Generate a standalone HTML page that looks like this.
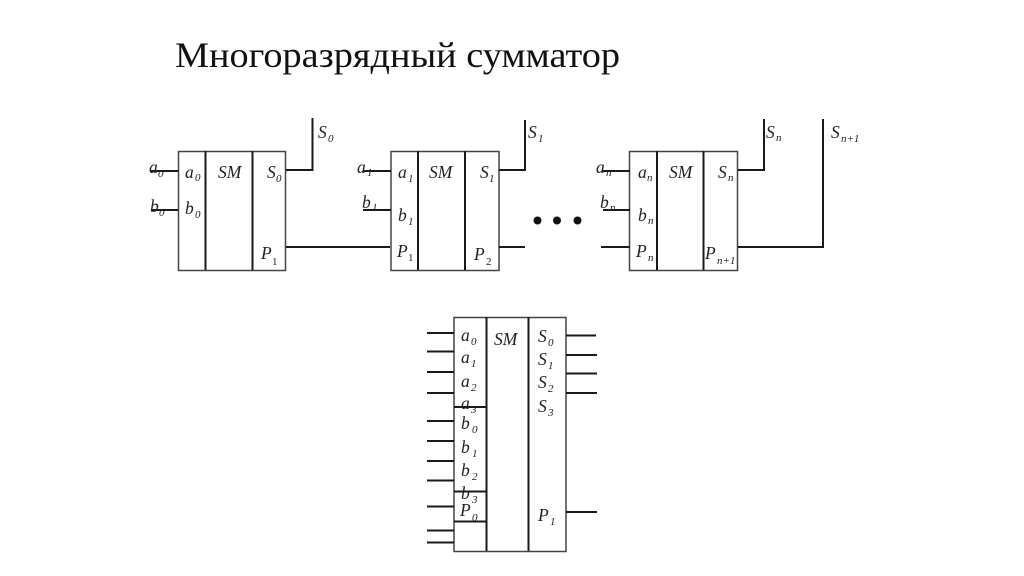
<!DOCTYPE html>
<html><head><meta charset="utf-8"><style>
html,body{margin:0;padding:0;background:#fff;width:1024px;height:576px;overflow:hidden}
svg{display:block}
text{font-family:"Liberation Serif",serif;fill:#222}
.l{font-size:17.5px;font-style:italic}
.s{font-size:11px;font-style:italic;transform:translateX(1px)}
.r{font-size:11px;transform:translateX(1px)}
.b{fill:none;stroke:#444;stroke-width:1.5}
.d{stroke:#1a1a1a;stroke-width:2;fill:none}
</style></head><body>
<svg width="1024" height="576" viewBox="0 0 1024 576" xmlns="http://www.w3.org/2000/svg">
<rect width="1024" height="576" fill="#fff"/>
<text x="175" y="67" font-size="36" style="fill:#111" textLength="445" lengthAdjust="spacingAndGlyphs">Многоразрядный сумматор</text>

<!-- block 1 -->
<rect class="b" x="178.500" y="151.500" width="107" height="119"/>
<path class="d" d="M205.500 151V270M252.500 151V270M151 171H178M151 210H178M286 170H312.500V118M286 247H390"/>
<!-- block 2 -->
<rect class="b" x="391" y="151.500" width="108" height="119"/>
<path class="d" d="M418 151V270M465 151V270M363 171H391M363 210H391M499 170H525V120M499 247H525"/>
<!-- block 3 -->
<rect class="b" x="629.500" y="151.500" width="108" height="119"/>
<path class="d" d="M657 151V270M703.500 151V270M603 171H630M603 210H630M601 247H630M738 170H764V119M738 247H823V119"/>
<circle cx="537.500" cy="220.500" r="4" fill="#111"/><circle cx="557" cy="220.500" r="4" fill="#111"/><circle cx="577.500" cy="220.500" r="4" fill="#111"/>

<!-- labels block 1 -->
<g transform="translate(0,1)">
<text class="l" x="149" y="172">a</text><text class="s" x="157" y="176">0</text>
<text class="l" x="150" y="211">b</text><text class="s" x="158" y="215">0</text>
<text class="l" x="185" y="177">a</text><text class="s" x="194" y="180">0</text>
<text class="l" x="185" y="213">b</text><text class="s" x="194" y="217">0</text>
<text class="l" x="218" y="177">SM</text>
<text class="l" x="267" y="177">S</text><text class="s" x="275" y="181">0</text>
<text class="l" x="261" y="258">P</text><text class="r" x="271" y="264">1</text>
<text class="l" x="318" y="137">S</text><text class="s" x="327" y="141">0</text>
</g>
<!-- labels block 2 -->
<g transform="translate(0,1)">
<text class="l" x="357" y="172">a</text><text class="s" x="366" y="175">1</text>
<text class="l" x="362" y="207">b</text><text class="s" x="371" y="210">1</text>
<text class="l" x="398" y="177">a</text><text class="s" x="407" y="181">1</text>
<text class="l" x="398" y="220">b</text><text class="s" x="407" y="224">1</text>
<text class="l" x="429" y="177">SM</text>
<text class="l" x="480" y="177">S</text><text class="s" x="488" y="181">1</text>
<text class="l" x="397" y="256">P</text><text class="r" x="407" y="260">1</text>
<text class="l" x="474" y="259">P</text><text class="r" x="485" y="264">2</text>
<text class="l" x="528" y="137">S</text><text class="s" x="537" y="141">1</text>
</g>
<!-- labels block 3 -->
<g transform="translate(0,1)">
<text class="l" x="596" y="172">a</text><text class="s" x="605" y="175">n</text>
<text class="l" x="600" y="207">b</text><text class="s" x="609" y="210">n</text>
<text class="l" x="638" y="177">a</text><text class="s" x="646" y="180">n</text>
<text class="l" x="638" y="220">b</text><text class="s" x="647" y="223">n</text>
<text class="l" x="669" y="177">SM</text>
<text class="l" x="718" y="177">S</text><text class="s" x="727" y="180">n</text>
<text class="l" x="636" y="256">P</text><text class="s" x="647" y="260">n</text>
<text class="l" x="705" y="258">P</text><text class="s" x="716" y="263">n+1</text>
<text class="l" x="766" y="137">S</text><text class="s" x="775" y="140">n</text>
<text class="l" x="831" y="137">S</text><text class="s" x="840" y="141">n+1</text>
</g>

<!-- bottom block -->
<rect class="b" x="454" y="317.500" width="112" height="234"/>
<path class="d" d="M486.500 317V551M528.500 317V551M454 407H486M454 491.500H486M454 521.500H486"/>
<path class="d" d="M427 333H454M427 351.500H454M427 372H454M427 393H454M427 421H454M427 441H454M427 461H454M427 480.500H454M427 506.500H454M427 530.500H454M427 542.500H454"/>
<path class="d" d="M566 335.500H596M566 355H597M566 373.500H597M566 393H597M566 512H597"/>
<g transform="translate(0,1)">
<text class="l" x="461" y="340">a</text><text class="s" x="470" y="344">0</text>
<text class="l" x="461" y="362">a</text><text class="s" x="470" y="366">1</text>
<text class="l" x="461" y="386">a</text><text class="s" x="470" y="390">2</text>
<text class="l" x="461" y="408">a</text><text class="s" x="470" y="412">3</text>
<text class="l" x="461" y="428">b</text><text class="s" x="471" y="432">0</text>
<text class="l" x="461" y="452">b</text><text class="s" x="471" y="456">1</text>
<text class="l" x="461" y="475">b</text><text class="s" x="471" y="479">2</text>
<text class="l" x="461" y="498">b</text><text class="s" x="471" y="502">3</text>
<text class="l" x="460" y="515">P</text><text class="s" x="471" y="520">0</text>
<text class="l" x="494" y="344">SM</text>
<text class="l" x="538" y="341">S</text><text class="s" x="547" y="345">0</text>
<text class="l" x="538" y="364">S</text><text class="s" x="547" y="368">1</text>
<text class="l" x="538" y="387">S</text><text class="s" x="547" y="391">2</text>
<text class="l" x="538" y="411">S</text><text class="s" x="547" y="415">3</text>
<text class="l" x="538" y="520">P</text><text class="s" x="549" y="524">1</text>
</g>
</svg>
</body></html>
